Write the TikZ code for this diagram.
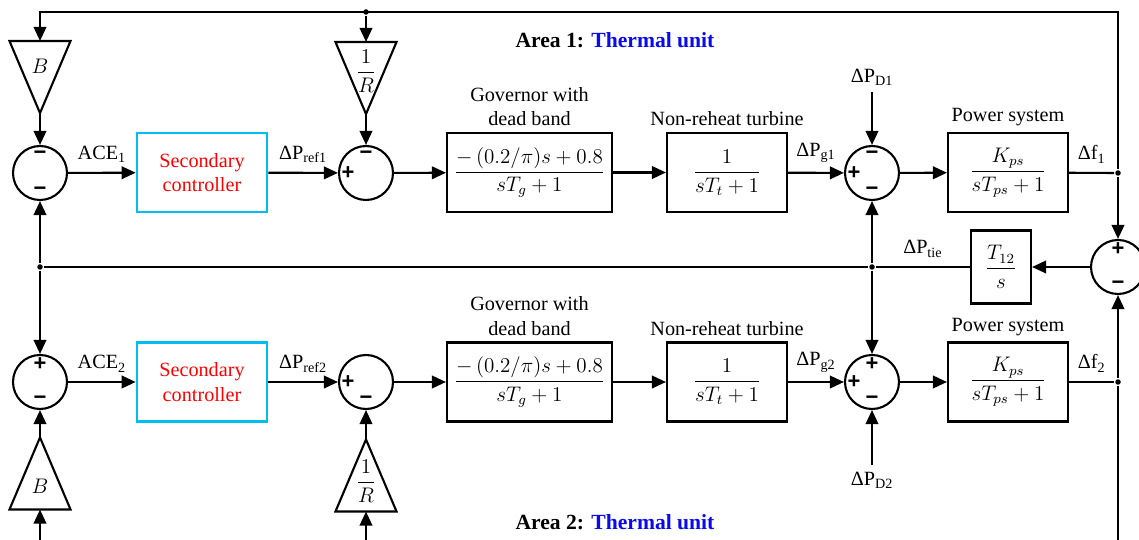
\documentclass[tikz,border=0pt]{standalone}
\usepackage{amsmath}
\usepackage{fontspec}
\setmainfont{Liberation Serif}
\newfontfamily\signfont{Liberation Sans}
\usetikzlibrary{arrows.meta,positioning}
\definecolor{ctrlcyan}{RGB}{0,190,240}
\definecolor{areablue}{RGB}{10,10,240}

\begin{document}
\begin{tikzpicture}[
    x=0.02cm, y=-0.02cm,
    >={Triangle[length=2.8mm,width=2.5mm]},
    line width=1.2pt,
    font=\fontsize{11.5}{14}\selectfont,
    block/.style={
        rectangle,
        draw,
        minimum width=#1,
        minimum height=1.58cm,
        inner sep=0pt,
        align=center,
        font=\fontsize{12}{14}\selectfont
    },
    block/.default=2.4cm,
    ctrl/.style={
        rectangle,
        draw=ctrlcyan,
        line width=1.5pt,
        text=red,
        minimum width=2.6cm,
        minimum height=1.58cm,
        align=center
    },
    sum/.style={circle, draw, minimum size=1.08cm, inner sep=0pt},
    sgn/.style={font=\signfont\bfseries\fontsize{12.5}{12.5}\selectfont, inner sep=0pt},
    gain/.style={rectangle, minimum width=1.18cm, minimum height=1.4cm, inner sep=0pt},
    dot/.style={circle, fill, inner sep=0pt, minimum size=1.1mm},
    sig/.style={above=5pt, inner sep=0pt},
    cap/.style={above=0.1cm of #1, inner sep=0pt, align=center},
    area/.style={font=\fontsize{12.3}{14}\selectfont\bfseries}
]
\useasboundingbox (0,0) rectangle (1139,540);

% Area 1
\node[sum] (s1) at (40,173) {};
\node[ctrl] (sc1) at (202,172.5) {Secondary\\controller};
\node[sum] (s2) at (366,173) {};
\node[block=3.3cm] (gov1) at (529.5,172.5) {$\dfrac{-\,(0.2/\pi)s + 0.8}{sT_g + 1}$};
\node[block] (tur1) at (727,172.5) {$\dfrac{1}{sT_t + 1}$};
\node[sum] (s3) at (872,173) {};
\node[block] (ps1) at (1008,172.5) {$\dfrac{K_{ps}}{sT_{ps} + 1}$};
\node[cap=gov1] (gov1c) {Governor with\\dead band};
\node[cap=tur1] (tur1c) {Non-reheat turbine};
\node[cap=ps1] (ps1c) {Power system};
\node[gain] (b1) at (40,77) {};
\node (b1t) at (40,66) {$B$};
\node[gain] (r1) at (366,78) {};
\node (r1t) at (366,71) {$\dfrac{1}{R}$};
\node (pd1) at (872,77) {ΔP\textsubscript{D1}};
\node[area] (area1) at (615,40) {Area 1: \textcolor{areablue}{Thermal unit}};

% Tie line
\node[sum] (s7) at (1118,267) {};
\node[block=1.2cm, minimum height=1.46cm] (t12) at (1001,267) {$\dfrac{T_{12}}{s}$};

% Area 2
\node[sum] (s4) at (40,382) {};
\node[ctrl] (sc2) at (202,382) {Secondary\\controller};
\node[sum] (s5) at (366,382) {};
\node[block=3.3cm] (gov2) at (529.5,382) {$\dfrac{-\,(0.2/\pi)s + 0.8}{sT_g + 1}$};
\node[block] (tur2) at (727,382) {$\dfrac{1}{sT_t + 1}$};
\node[sum] (s6) at (872,382) {};
\node[block] (ps2) at (1008,382) {$\dfrac{K_{ps}}{sT_{ps} + 1}$};
\node[cap=gov2] (gov2c) {Governor with\\dead band};
\node[cap=tur2] (tur2c) {Non-reheat turbine};
\node[cap=ps2] (ps2c) {Power system};
\node[gain] (b2) at (40,473.5) {};
\node (b2t) at (40,486) {$B$};
\node[gain] (r2) at (366,475.5) {};
\node (r2t) at (366,481) {$\dfrac{1}{R}$};
\node (pd2) at (872,480) {ΔP\textsubscript{D2}};
\node[area] (area2) at (615,522) {Area 2: \textcolor{areablue}{Thermal unit}};

% Signs of the summing points
\foreach \n/\p/\t in {s1/90/−, s1/270/−, s2/90/−, s2/180/+, s3/90/−, s3/180/+, s3/270/−,
                      s7/90/+, s7/270/−, s4/90/+, s4/270/−, s5/180/+, s5/270/−,
                      s6/90/+, s6/180/+, s6/270/−}
  \node[sgn] (\n-\p) at ([shift={(\p:0.36cm)}]\n.center) {\t};

% Gain triangles
\foreach \g in {b1,r1} \draw (\g.north west) -- (\g.north east) -- (\g.south) -- cycle;
\foreach \g in {b2,r2} \draw (\g.south west) -- (\g.south east) -- (\g.north) -- cycle;

% Branch points
\node[dot] (rj) at (366,12) {};
\node[dot] (f1) at (1118,173) {};
\node[dot] (tj) at (872,267) {};
\node[dot] (lj) at (40,267) {};
\node[dot] (f2) at (1118,382) {};
\coordinate (tl) at (40,12);
\coordinate (tr) at (1118,12);
\coordinate (bl) at (40,540);
\coordinate (bm) at (366,540);
\coordinate (br) at (1118,540);

% Area 1 signals
\draw[->] (s1) -- node[sig] (ace1) {ACE\textsubscript{1}} (sc1);
\draw[->] (sc1) -- node[sig] (ref1) {ΔP\textsubscript{ref1}} (s2);
\draw[->] (s2) -- (gov1);
\draw[->] (gov1) -- (tur1);
\draw[->] (tur1) -- node[sig] (pg1) {ΔP\textsubscript{g1}} (s3);
\draw[->] (s3) -- (ps1);
\draw (ps1) -- node[sig] (df1) {Δf\textsubscript{1}} (f1);
\draw[->] (pd1) -- (s3);
\draw[->] (f1) -- (tr) -- (tl) -- (b1.north);
\draw[->] (rj) -- (r1.north);
\draw[->] (b1.south) -- (s1);
\draw[->] (r1.south) -- (s2);

% Tie-line signals
\draw[->] (f1) -- (s7);
\draw[->] (f2) -- (s7);
\draw[->] (s7) -- (t12);
\draw (t12) -- node[sig] (ptie) {ΔP\textsubscript{tie}} (tj);
\draw (tj) -- (lj);
\draw[->] (tj) -- (s3);
\draw[->] (tj) -- (s6);
\draw[->] (lj) -- (s1);
\draw[->] (lj) -- (s4);

% Area 2 signals
\draw[->] (s4) -- node[sig] (ace2) {ACE\textsubscript{2}} (sc2);
\draw[->] (sc2) -- node[sig] (ref2) {ΔP\textsubscript{ref2}} (s5);
\draw[->] (s5) -- (gov2);
\draw[->] (gov2) -- (tur2);
\draw[->] (tur2) -- node[sig] (pg2) {ΔP\textsubscript{g2}} (s6);
\draw[->] (s6) -- (ps2);
\draw (ps2) -- node[sig] (df2) {Δf\textsubscript{2}} (f2);
\draw (f2) -- (br);
\draw[->] (pd2) -- (s6);
\draw[->] (b2.north) -- (s4);
\draw[->] (r2.north) -- (s5);
\draw[->] (bl) -- (b2.south);
\draw[->] (bm) -- (r2.south);

\end{tikzpicture}
\end{document}
